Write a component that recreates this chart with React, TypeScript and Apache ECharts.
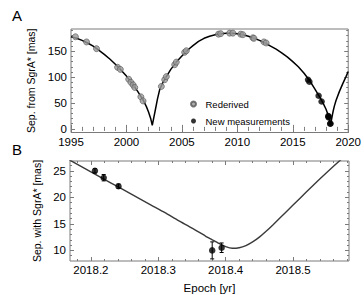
import React, { useEffect, useRef } from "react";
import * as echarts from "echarts";

// ---- Data ----
// Model separation curve, panel A (epoch [yr], separation [mas])
const modelEpoch = [
  1995.0, 1995.5, 1996.0, 1996.5, 1997.0, 1997.5, 1998.0, 1998.5, 1999.0, 1999.5,
  2000.0, 2000.5, 2001.0, 2001.5, 2001.8, 2002.0, 2002.2, 2002.33, 2002.45, 2002.6,
  2002.8, 2003.0, 2003.3, 2003.6, 2004.0, 2004.5, 2005.0, 2005.5, 2006.0, 2006.5,
  2007.0, 2007.5, 2008.0, 2008.5, 2009.0, 2009.5, 2010.0, 2010.5, 2011.0, 2011.5,
  2012.0, 2012.5, 2013.0, 2013.5, 2014.0, 2014.5, 2015.0, 2015.5, 2016.0, 2016.5,
  2017.0, 2017.5, 2017.8, 2018.0, 2018.1, 2018.2, 2018.3, 2018.41, 2018.5, 2018.575,
  2018.65, 2018.75, 2018.9, 2019.2, 2019.5, 2019.8, 2020.0,
];
const modelSep = [
  178, 175, 171, 166, 160, 152, 144, 135, 125, 114,
  102, 88, 73, 56, 43, 32, 19, 7, 20, 36,
  58, 76, 90, 101, 115, 129, 141, 152, 161, 169,
  175, 179, 182, 184, 185, 185, 184, 182, 179, 175,
  171, 166, 160, 154, 147, 139, 130, 120, 108, 94,
  77, 59, 47, 38, 32, 24.8, 17.7, 8, 18.4, 27.0,
  35, 44, 55, 72, 87, 101, 111,
];

// Model separation curve around the 2018 pericentre, panel B
const zoomEpoch = [
  2018.15, 2018.17, 2018.19, 2018.21, 2018.23, 2018.25, 2018.27, 2018.29, 2018.31, 2018.33,
  2018.35, 2018.37, 2018.38, 2018.39, 2018.40, 2018.41, 2018.42, 2018.43, 2018.44, 2018.45,
  2018.46, 2018.47, 2018.49, 2018.51, 2018.53, 2018.55, 2018.57, 2018.59, 2018.61,
];
const zoomSep = [
  28.3, 26.9, 25.5, 24.1, 22.7, 21.3, 19.9, 18.5, 17.1, 15.6,
  14.2, 12.7, 12.0, 11.3, 10.7, 10.4, 10.5, 10.9, 11.6, 12.5,
  13.6, 14.8, 17.3, 19.8, 22.3, 24.7, 27.0, 29.3, 31.6,
];

// Rederived astrometry (grey)
const rederivedEpoch = [
  1995.4, 1996.4, 1997.3, 1999.2, 1999.45, 2000.2, 2000.4, 2000.6, 2000.75, 2001.3,
  2001.5, 2003.15, 2003.45, 2003.6, 2004.35, 2004.5, 2005.25, 2005.4, 2008.3, 2008.5,
  2009.3, 2009.6, 2010.3, 2010.5, 2011.4, 2011.5, 2012.4, 2012.6,
];
const rederivedSep = [
  178, 168, 155, 119, 115, 96, 90, 85, 80, 62,
  54, 82, 95, 101, 124, 129, 148, 151, 183, 184,
  185, 185, 183, 182, 176, 175, 168, 166,
];

// New measurements (black)
const newEpoch = [2016.38, 2016.5, 2017.33, 2017.6, 2018.206, 2018.219, 2018.241, 2018.38, 2018.394];
const newSep = [95, 91, 64, 53, 25.0, 23.7, 22.1, 10.0, 10.5];
const newErr = [0, 0, 0, 0, 0.4, 0.6, 0.4, 1.6, 0.9];

// Axis ticks
const aXLabels = [1995, 2000, 2005, 2010, 2015, 2020];
const aXMinor = [1996, 1997, 1998, 1999, 2001, 2002, 2003, 2004, 2006, 2007, 2008, 2009, 2011, 2012, 2013, 2014, 2016, 2017, 2018, 2019];
const aYLabels = [0, 50, 100, 150];
const aYMinor = [10, 20, 30, 40, 60, 70, 80, 90, 110, 120, 130, 140, 160, 170, 180, 190];
const bXLabels = [2018.2, 2018.3, 2018.4, 2018.5];
const bXMinor = [2018.18, 2018.22, 2018.24, 2018.26, 2018.28, 2018.32, 2018.34, 2018.36, 2018.38, 2018.42, 2018.44, 2018.46, 2018.48, 2018.52, 2018.54, 2018.56, 2018.58];
const bYLabels = [10, 15, 20, 25];
const bYMinor = [9, 11, 12, 13, 14, 16, 17, 18, 19, 21, 22, 23, 24, 26];

const FONT = "Liberation Sans, Arial, Helvetica, sans-serif";
const FRAME = "#7a7a7a";

export default function App() {
  const ref = useRef<HTMLDivElement>(null);

  useEffect(() => {
    if (!ref.current) return;
    const chart = echarts.init(ref.current, undefined, { renderer: "svg" });

    const zip = (xs: number[], ys: number[]) => xs.map((x, i) => [x, ys[i]]);

    const mkX = (grid: number, min: number, max: number, pos: string, vals: number[], len: number, labels: boolean, fmt?: (v: number) => string, name?: string) => ({
      type: "value",
      gridIndex: grid,
      min,
      max,
      position: pos,
      name: name || "",
      nameLocation: "middle",
      nameGap: 21,
      nameTextStyle: { fontFamily: FONT, fontSize: 11.5, color: "#000" },
      axisLine: { show: false },
      splitLine: { show: false },
      axisTick: { show: true, inside: true, length: len, customValues: vals, lineStyle: { color: FRAME, width: 1 } },
      axisLabel: labels
        ? { show: true, customValues: vals, margin: 3, fontFamily: FONT, fontSize: 11.5, color: "#000", formatter: fmt }
        : { show: false },
    });
    const mkY = (grid: number, min: number, max: number, pos: string, vals: number[], len: number, labels: boolean, name?: string) => ({
      type: "value",
      gridIndex: grid,
      min,
      max,
      position: pos,
      name: name || "",
      nameLocation: "middle",
      nameGap: 27,
      nameTextStyle: { fontFamily: FONT, fontSize: 10.5, color: "#000" },
      axisLine: { show: false },
      splitLine: { show: false },
      axisTick: { show: true, inside: true, length: len, customValues: vals, lineStyle: { color: FRAME, width: 1 } },
      axisLabel: labels
        ? { show: true, customValues: vals, margin: 4, fontFamily: FONT, fontSize: 11.5, color: "#000" }
        : { show: false },
    });

    const aX0 = 1995, aX1 = 2020, aY0 = -7, aY1 = 193;
    const bX0 = 2018.169, bX1 = 2018.583, bY0 = 8, bY1 = 26.85;

    const xAxis = [
      mkX(0, aX0, aX1, "bottom", aXLabels, 4, true, (v: number) => String(Math.round(v))),
      mkX(0, aX0, aX1, "bottom", aXMinor, 2, false),
      mkX(0, aX0, aX1, "top", aXLabels, 4, false),
      mkX(0, aX0, aX1, "top", aXMinor, 2, false),
      mkX(1, bX0, bX1, "bottom", bXLabels, 4, true, (v: number) => v.toFixed(1), "Epoch [yr]"),
      mkX(1, bX0, bX1, "bottom", bXMinor, 2, false),
      mkX(1, bX0, bX1, "top", bXLabels, 4, false),
      mkX(1, bX0, bX1, "top", bXMinor, 2, false),
    ];
    const yAxis = [
      mkY(0, aY0, aY1, "left", aYLabels, 4, true, "Sep. from SgrA* [mas]"),
      mkY(0, aY0, aY1, "left", aYMinor, 2, false),
      mkY(0, aY0, aY1, "right", aYLabels, 4, false),
      mkY(0, aY0, aY1, "right", aYMinor, 2, false),
      mkY(1, bY0, bY1, "left", bYLabels, 4, true, "Sep. with SgrA* [mas]"),
      mkY(1, bY0, bY1, "left", bYMinor, 2, false),
      mkY(1, bY0, bY1, "right", bYLabels, 4, false),
      mkY(1, bY0, bY1, "right", bYMinor, 2, false),
    ];

    const bNew = newEpoch.map((x, i) => [x, newSep[i], newSep[i] - newErr[i], newSep[i] + newErr[i]]).filter((d) => d[0] >= bX0);

    chart.setOption({
      animation: false,
      backgroundColor: "#fff",
      grid: [
        { left: 71, right: 15, top: 29, height: 103.5, show: true, borderColor: FRAME, borderWidth: 1, backgroundColor: "transparent" },
        { left: 70, right: 15, top: 161, height: 102, show: true, borderColor: FRAME, borderWidth: 1, backgroundColor: "transparent" },
      ],
      xAxis,
      yAxis,
      legend: {
        show: true,
        selectedMode: false,
        orient: "vertical",
        left: 185,
        top: 93,
        itemWidth: 14,
        itemHeight: 5,
        itemGap: 5,
        textStyle: { fontFamily: FONT, fontSize: 9.5, color: "#000", lineHeight: 12 },
        data: ["Rederived", "New measurements"],
      },
      graphic: [
        { type: "text", left: 12, top: 8, style: { text: "A", fontFamily: FONT, fontSize: 15, fill: "#000" } },
        { type: "text", left: 12, top: 142, style: { text: "B", fontFamily: FONT, fontSize: 15, fill: "#000" } },
      ],
      series: [
        {
          type: "line",
          name: "model",
          xAxisIndex: 0,
          yAxisIndex: 0,
          data: zip(modelEpoch, modelSep),
          showSymbol: false,
          symbol: "none",
          lineStyle: { color: "#000", width: 1.5 },
          z: 2,
        },
        {
          type: "scatter",
          name: "Rederived",
          xAxisIndex: 0,
          yAxisIndex: 0,
          data: zip(rederivedEpoch, rederivedSep),
          symbol: "circle",
          symbolSize: 6,
          itemStyle: { color: "#9a9a9a", borderColor: "#555", borderWidth: 0.8 },
          z: 3,
        },
        {
          type: "scatter",
          name: "New measurements",
          xAxisIndex: 0,
          yAxisIndex: 0,
          data: zip(newEpoch, newSep),
          symbol: "circle",
          symbolSize: 6.5,
          itemStyle: { color: "#000" },
          z: 4,
        },
        {
          type: "line",
          name: "modelB",
          xAxisIndex: 4,
          yAxisIndex: 4,
          data: zip(zoomEpoch, zoomSep),
          showSymbol: false,
          symbol: "none",
          smooth: 0.2,
          clip: true,
          lineStyle: { color: "#3a3a3a", width: 1.4 },
          z: 2,
        },
        {
          type: "custom",
          name: "errors",
          xAxisIndex: 4,
          yAxisIndex: 4,
          data: bNew,
          renderItem: (params: any, api: any) => {
            const x = api.value(0);
            const lo = api.coord([x, api.value(2)]);
            const hi = api.coord([x, api.value(3)]);
            const st = { stroke: "#000", lineWidth: 1 };
            return {
              type: "group",
              children: [
                { type: "line", shape: { x1: lo[0], y1: lo[1], x2: hi[0], y2: hi[1] }, style: st },
                { type: "line", shape: { x1: lo[0] - 2, y1: lo[1], x2: lo[0] + 2, y2: lo[1] }, style: st },
                { type: "line", shape: { x1: hi[0] - 2, y1: hi[1], x2: hi[0] + 2, y2: hi[1] }, style: st },
              ],
            };
          },
          z: 3,
        },
        {
          type: "scatter",
          name: "New measurements",
          xAxisIndex: 4,
          yAxisIndex: 4,
          data: bNew.map((d) => [d[0], d[1]]),
          symbol: "circle",
          symbolSize: 6.5,
          itemStyle: { color: "#000" },
          z: 4,
        },
      ],
    });

    return () => chart.dispose();
  }, []);

  return <div ref={ref} style={{ position: "fixed", left: 0, top: 0, width: 364, height: 295 }} />;
}
